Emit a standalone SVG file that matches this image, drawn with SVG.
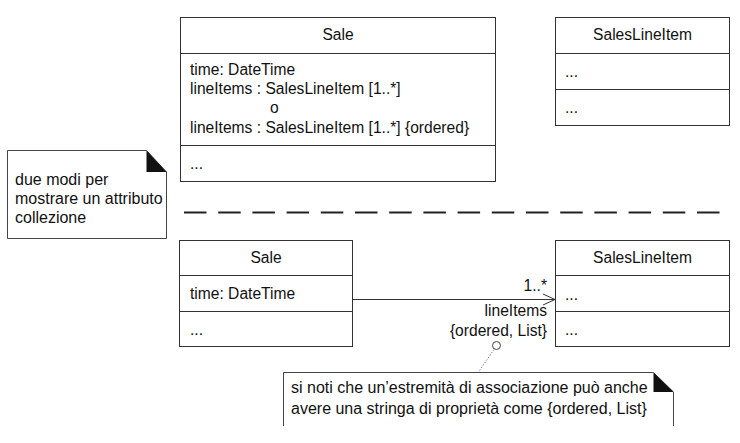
<svg xmlns="http://www.w3.org/2000/svg" width="740" height="443" viewBox="0 0 740 443">
<style>
.box{fill:#fff;stroke:#333;stroke-width:1}
.ln{stroke:#333;stroke-width:1;fill:none}
.t{font-family:"Liberation Sans",Arial,sans-serif;font-size:15.6px;fill:#111}
.n{font-family:"Liberation Sans",Arial,sans-serif;font-size:16px;fill:#111}
.c{text-anchor:middle}
.r{text-anchor:end}
.note{fill:#fff;stroke:#444;stroke-width:1}
</style>
<rect width="740" height="443" fill="#fff"/>

<g id="sale-top">
<rect class="box" x="180.5" y="17.5" width="315" height="164"/>
<line class="ln" x1="180.5" y1="53.5" x2="495.5" y2="53.5"/>
<line class="ln" x1="180.5" y1="145.5" x2="495.5" y2="145.5"/>
<text class="t c" x="338" y="40">Sale</text>
<text class="t" x="190" y="75">time: DateTime</text>
<text class="t" x="190" y="94">lineItems : SalesLineItem [1..*]</text>
<text class="t" x="270" y="113">o</text>
<text class="t" x="190" y="133">lineItems : SalesLineItem [1..*] {ordered}</text>
<text class="t" x="190" y="169">...</text>
</g>

<g id="saleslineitem-top">
<rect class="box" x="555.5" y="17.5" width="174" height="108"/>
<line class="ln" x1="555.5" y1="53.5" x2="729.5" y2="53.5"/>
<line class="ln" x1="555.5" y1="89.5" x2="729.5" y2="89.5"/>
<text class="t c" x="642.5" y="40">SalesLineItem</text>
<text class="t" x="565" y="77">...</text>
<text class="t" x="565" y="113">...</text>
</g>

<g id="note-left">
<polygon class="note" points="7.5,150.5 146.5,150.5 166.5,172 166.5,238.5 7.5,238.5"/>
<polygon points="146.5,150.5 166.5,172 146.5,172" fill="#111"/>
<text class="n" x="15" y="185">due modi per</text>
<text class="n" x="15" y="204">mostrare un attributo</text>
<text class="n" x="15" y="223">collezione</text>
</g>

<g id="separator">
<line x1="184" y1="212.5" x2="720" y2="212.5" stroke="#222" stroke-width="2" stroke-dasharray="22.5 11.7"/>
</g>

<g id="sale-bottom">
<rect class="box" x="179.5" y="240.5" width="173" height="106"/>
<line class="ln" x1="179.5" y1="275.5" x2="352.5" y2="275.5"/>
<line class="ln" x1="179.5" y1="311.5" x2="352.5" y2="311.5"/>
<text class="t c" x="266" y="263">Sale</text>
<text class="t" x="190" y="299">time: DateTime</text>
<text class="t" x="190" y="335">...</text>
</g>

<g id="saleslineitem-bottom">
<rect class="box" x="555.5" y="240.5" width="174" height="106"/>
<line class="ln" x1="555.5" y1="275.5" x2="729.5" y2="275.5"/>
<line class="ln" x1="555.5" y1="311.5" x2="729.5" y2="311.5"/>
<text class="t c" x="642.5" y="263">SalesLineItem</text>
<text class="t" x="565" y="300">...</text>
<text class="t" x="565" y="335">...</text>
</g>

<g id="note-bottom">
<polyline class="note" points="283.5,426 283.5,372.5 653.5,372.5 673.5,392 673.5,426"/>
<polygon points="653.5,372.5 673.5,392 653.5,392" fill="#111"/>
<text class="n" x="291" y="393">si noti che un’estremità di associazione può anche</text>
<text class="n" x="291" y="414">avere una stringa di proprietà come {ordered, List}</text>
</g>

<g id="connectors">
<line class="ln" x1="352.5" y1="299.5" x2="555" y2="299.5"/>
<polyline class="ln" points="543,294 555,299.5 543,305"/>
<text class="t r" x="547" y="291">1..*</text>
<text class="t r" x="547" y="316">lineItems</text>
<text class="t r" x="547" y="336">{ordered, List}</text>
<circle cx="496.5" cy="345.5" r="4" fill="#fff" stroke="#444" stroke-width="1"/>
<line x1="494" y1="349.5" x2="478.5" y2="372" stroke="#888" stroke-width="1" stroke-dasharray="1.5 1.5"/>
</g>
</svg>
